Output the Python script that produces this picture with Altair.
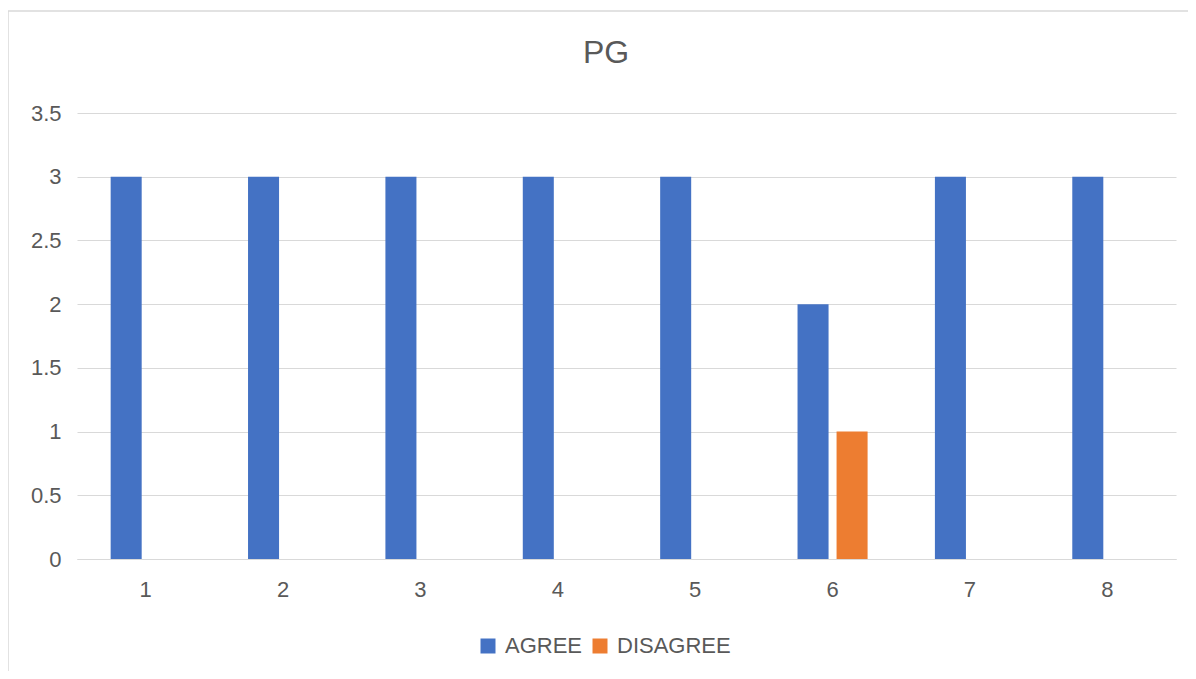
import altair as alt
import pandas as pd

categories = ["1", "2", "3", "4", "5", "6", "7", "8"]
agree = [3, 3, 3, 3, 3, 2, 3, 3]
disagree = [0, 0, 0, 0, 0, 1, 0, 0]
series = ["AGREE", "DISAGREE"]
colors = ["#4472C4", "#ED7D31"]
y_ticks = [0, 0.5, 1, 1.5, 2, 2.5, 3, 3.5]
chart_title = "PG"

rows = []
for c, a, d in zip(categories, agree, disagree):
    rows.append({"cat": c, "series": "AGREE", "value": a})
    rows.append({"cat": c, "series": "DISAGREE", "value": d})
df = pd.DataFrame(rows)

FONT = "Liberation Sans"
GRAY = "#595959"
GRID = "#d9d9d9"

bars = alt.Chart(df).mark_bar().encode(
    x=alt.X("cat:N", sort=categories,
            scale=alt.Scale(paddingInner=0.49, paddingOuter=0.245),
            axis=alt.Axis(title=None, labelAngle=0, ticks=False, domainColor=GRID,
                          labelFont=FONT, labelFontSize=22, labelColor=GRAY,
                          labelPadding=20, grid=False)),
    xOffset=alt.XOffset("series:N", sort=series,
                        scale=alt.Scale(paddingInner=0.205, paddingOuter=0)),
    y=alt.Y("value:Q", scale=alt.Scale(domain=[0, 3.5], nice=False),
            axis=alt.Axis(title=None, values=y_ticks, labelExpr="'' + datum.value",
                          domain=False, ticks=False, gridColor=GRID,
                          labelFont=FONT, labelFontSize=22, labelColor=GRAY,
                          labelPadding=16)),
    color=alt.Color("series:N", sort=series,
                    scale=alt.Scale(domain=series, range=colors),
                    legend=alt.Legend(title=None, orient="none", direction="horizontal",
                                      legendX=400, legendY=522, padding=0,
                                      symbolType="square", symbolSize=225,
                                      symbolStrokeWidth=0, labelOffset=6,
                                      columnPadding=6,
                                      labelFont=FONT, labelFontSize=22,
                                      labelColor=GRAY)),
)

frame = alt.Chart(alt.Data(values=[{"f": 1}])).mark_rect(
    fill=None, stroke=GRID, strokeWidth=1.5
).encode(
    x=alt.value(-69), x2=alt.value(1140),
    y=alt.value(-102), y2=alt.value(620),
)

title = alt.Chart(alt.Data(values=[{"t": chart_title}])).mark_text(
    font=FONT, fontSize=32, color=GRAY, baseline="alphabetic", align="center"
).encode(
    text="t:N", x=alt.value(529), y=alt.value(-50.5),
)

chart = alt.layer(frame, bars, title).properties(
    width=1099, height=446,
    padding={"left": 69, "top": 105, "right": 12, "bottom": 112},
    autosize=alt.AutoSizeParams(type="none"),
).configure_view(stroke=None)

chart.save("out.html", embed_options={"renderer": "svg", "actions": False})
